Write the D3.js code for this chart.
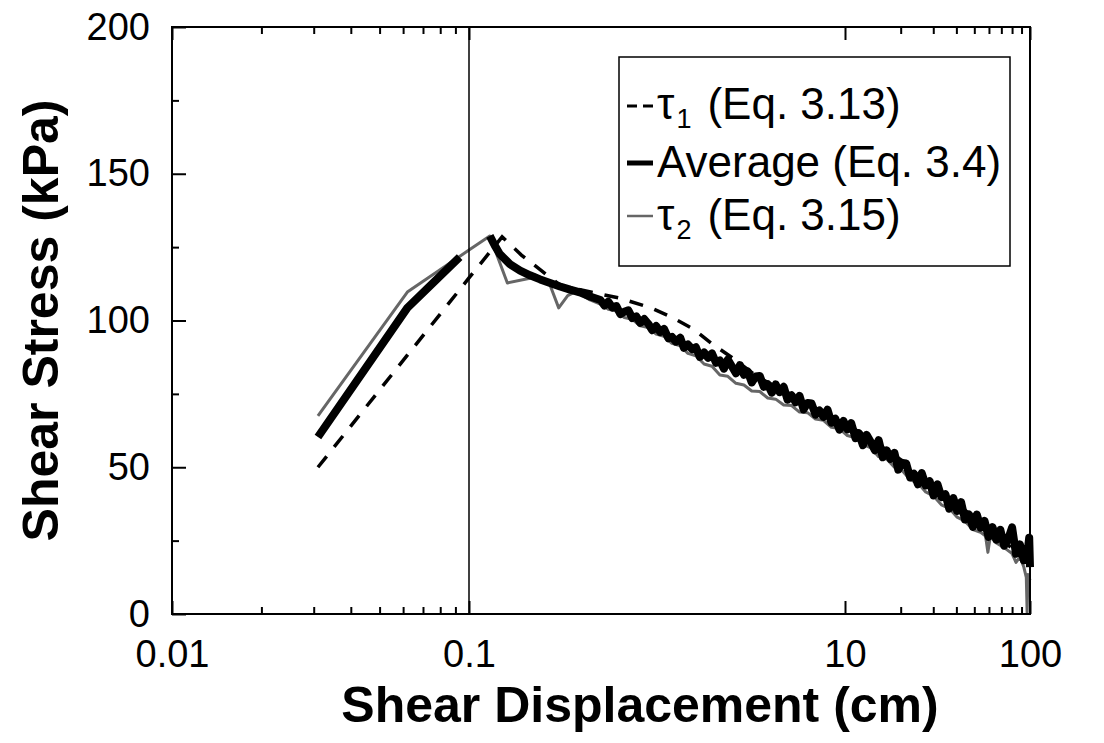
<!DOCTYPE html>
<html>
<head>
<meta charset="utf-8">
<script src="https://cdn.jsdelivr.net/npm/d3@7"></script>
<style>
  html, body { margin: 0; padding: 0; background: #fff; }
  svg { display: block; font-family: "Liberation Sans", Arial, sans-serif; }
</style>
</head>
<body>
<svg id="chart" width="1104" height="743"></svg>
<script>
// ---------- data ----------
const xMajorTicks = [0.01, 0.1, 10, 100];
const xTickLabels = ["0.01", "0.1", "10", "100"];
const xMinorTicks = [0.02, 0.03, 0.04, 0.05, 0.06, 0.07, 0.08, 0.09, 20, 30, 40, 50, 60, 70, 80, 90];
const yMajorTicks = [0, 50, 100, 150, 200];
const yMinorTicks = [25, 75, 125, 175];

// tau1 (Eq. 3.13) - dashed
const tau1X = [0.031, 0.1, 0.150, 0.190, 0.307, 0.45, 0.626, 0.93, 1.19, 1.56, 1.94, 2.49, 3.5, 5.0, 8.0, 12, 20, 35, 60, 100];
const tau1Y = [50, 114.5, 128.5, 122.3, 111.9, 109.6, 107.7, 104.3, 101.2, 97.1, 92.3, 87.5, 80.4, 75.3, 68.0, 62.0, 52.6, 40.3, 29.2, 17];

// Average (Eq. 3.4) - thick black (null = gap)
const avgX = [0.031, 0.062, 0.093, 0.11,
  0.129, 0.137, 0.146, 0.165, 0.187, 0.211, 0.239, 0.270, 0.305, 0.345, 0.389, 0.440,
  0.5, 0.525, 0.551, 0.579, 0.608, 0.638, 0.670, 0.704, 0.739, 0.776, 0.814, 0.855, 0.898, 0.943, 0.990,
  1.04, 1.09, 1.15, 1.20, 1.26, 1.33, 1.39, 1.46, 1.54, 1.61, 1.69, 1.78, 1.87, 1.96, 2.06,
  2.16, 2.27, 2.38, 2.50, 2.63, 2.76, 2.90, 3.04, 3.19, 3.35, 3.52, 3.70, 3.88, 4.08, 4.28,
  4.49, 4.72, 4.95, 5.20, 5.46, 5.73, 6.02, 6.32, 6.64, 6.97, 7.32, 7.68, 8.07, 8.47, 8.89,
  9.34, 9.81, 10.3, 10.8, 11.4, 11.9, 12.5, 13.1, 13.8, 14.5, 15.2, 16.0, 16.8, 17.6, 18.5,
  19.4, 20.4, 21.4, 22.5, 23.6, 24.8, 26.0, 27.3, 28.7, 30.1, 31.6, 33.2, 34.9, 36.6, 38.5,
  40.4, 42.4, 44.5, 46.8, 49.1, 51.6, 54.1, 56.8, 59.7, 62.7, 65.8, 69.1, 72.5, 76.2, 80.0,
  84.0, 88.2, 92.6, 97.2, 99.0, 100];
const avgY = [60.3, 104.3, 121.6, null,
  128.8, 125.6, 122.6, 119.2, 117.0, 115.4, 114.0, 112.8, 111.6, 110.5, 109.6, 108.2,
  107.0, 105.1, 106.4, 104.4, 104.9, 102.2, 103.0, 103.5, 100.8, 101.4, 99.2, 100.5, 98.9, 96.7, 98.1,
  96.1, 97.1, 93.9, 94.4, 92.8, 94.1, 90.7, 91.8, 90.2, 90.9, 87.6, 89.1, 87.3, 88.8, 85.6,
  86.4, 83.6, 86.7, 84.4, 82.0, 84.8, 81.5, 82.6, 78.9, 80.9, 81.1, 77.4, 78.3, 75.4, 78.2,
  75.6, 77.4, 73.0, 74.5, 72.1, 74.3, 69.7, 71.9, 71.7, 67.9, 69.3, 67.2, 69.6, 65.2, 66.5,
  62.8, 65.8, 62.9, 65.0, 59.9, 61.6, 57.5, 61.0, 58.5, 55.8, 59.2, 53.4, 55.7, 52.9, 54.9,
  49.2, 51.5, 51.3, 46.5, 47.8, 44.2, 48.0, 43.8, 45.2, 40.4, 44.2, 39.8, 40.8, 35.9, 39.5,
  35.1, 38.1, 32.2, 33.9, 29.7, 33.9, 29.4, 31.7, 26.3, 29.6, 25.3, 28.7, 23.3, 25.5, 29.5,
  20.5, 23.7, 18.3, 21.5, 26.0, 16.0];

// tau2 (Eq. 3.15) - thin grey
const tau2X = [0.031, 0.062, 0.10, 0.129, 0.160, 0.211, 0.225, 0.27, 0.300, 0.335, 0.36, 0.40,
  0.44, 0.50, 0.551, 0.608, 0.670, 0.739, 0.814, 0.898, 0.990, 1.09, 1.20, 1.33, 1.46, 1.61, 1.78, 1.96,
  2.16, 2.38, 2.63, 2.90, 3.19, 3.52, 3.88, 4.28, 4.72, 5.20, 5.73, 6.32, 6.97, 7.68, 8.47, 9.34,
  10.3, 11.4, 12.5, 13.8, 15.2, 16.8, 18.5, 20.4, 22.5, 24.8, 27.3, 30.1, 33.2, 36.6, 40.4, 44.5,
  49.1, 54.1, 57.5, 59.2, 61.0, 65.8, 72.5, 80.0, 84.0, 88.2, 92.6, 95.5, 96.5, 97.5, 100];
const tau2Y = [67.5, 109.7, 124.0, 128.8, 112.8, 114.4, 115.5, 112.0, 104.3, 108.5, 109.5, 108.6,
  107.0, 105.6, 103.8, 103.2, 101.0, 100.4, 98.2, 97.6, 95.4, 94.6, 92.2, 91.4, 88.8, 88.0, 85.2, 84.4,
  81.4, 81.0, 78.6, 78.0, 76.0, 75.8, 73.6, 73.2, 71.2, 71.0, 68.8, 68.6, 66.4, 66.0, 63.6, 63.2,
  60.8, 60.0, 57.8, 56.6, 53.6, 52.8, 50.0, 48.8, 45.8, 44.6, 41.6, 40.2, 37.2, 36.0, 33.0, 31.6,
  28.8, 27.8, 26.6, 21.0, 26.4, 24.2, 22.6, 20.6, 17.6, 19.4, 16.0, 12.5, 0.5, 13.5, 11.5];

const legendLabels = [
  {sym: "τ", sub: "1", rest: "(Eq. 3.13)"},
  {sym: "", sub: "", rest: "Average (Eq. 3.4)"},
  {sym: "τ", sub: "2", rest: "(Eq. 3.15)"}
];

// ---------- layout ----------
const svg = d3.select("#chart");
const L = 172, R = 1030, T = 27, B = 614;

const x = d3.scaleLog().domain([0.01, 0.1, 10, 100]).range([L, 469, 845, R]);
const y = d3.scaleLinear().domain([0, 200]).range([B, T]);

const zip = (xs, ys) => xs.map((v, i) => [v, ys[i]]);
const line = d3.line().defined(d => d[1] !== null).x(d => x(d[0])).y(d => y(d[1]));

const plot = svg.append("g");

// tau1 dashed
plot.append("path").datum(zip(tau1X, tau1Y)).attr("d", line)
  .attr("fill", "none").attr("stroke", "#000").attr("stroke-width", 3.5)
  .attr("stroke-dasharray", "14,12");
// tau2 grey
plot.append("path").datum(zip(tau2X, tau2Y)).attr("d", line)
  .attr("fill", "none").attr("stroke", "#666").attr("stroke-width", 3)
  .attr("stroke-linejoin", "round");
// average thick
plot.append("path").datum(zip(avgX, avgY)).attr("d", line)
  .attr("fill", "none").attr("stroke", "#000").attr("stroke-width", 8)
  .attr("stroke-linejoin", "round");

// vertical line at 0.1
svg.append("line").attr("x1", x(0.1)).attr("x2", x(0.1)).attr("y1", T).attr("y2", B)
  .attr("stroke", "#000").attr("stroke-width", 1.5);

// ---------- axes ----------
function styleAxis(g) {
  g.select(".domain").remove();
  g.selectAll(".tick line").attr("stroke", "#000").attr("stroke-width", 2);
  g.selectAll("text").attr("fill", "#000").style("font-size", "38px")
    .style("font-family", '"Liberation Sans", Arial, sans-serif');
}

const xFmt = d => xTickLabels[xMajorTicks.indexOf(d)];
svg.append("g").attr("transform", `translate(0,${B})`)
  .call(d3.axisBottom(x).tickValues(xMajorTicks).tickFormat(xFmt).tickSize(-13).tickPadding(26))
  .call(styleAxis);
svg.append("g").attr("transform", `translate(0,${B})`)
  .call(d3.axisBottom(x).tickValues(xMinorTicks).tickFormat("").tickSize(-7))
  .call(styleAxis);
svg.append("g").attr("transform", `translate(0,${T})`)
  .call(d3.axisTop(x).tickValues(xMajorTicks).tickFormat("").tickSize(-13))
  .call(styleAxis);
svg.append("g").attr("transform", `translate(0,${T})`)
  .call(d3.axisTop(x).tickValues(xMinorTicks).tickFormat("").tickSize(-7))
  .call(styleAxis);

svg.append("g").attr("transform", `translate(${L},0)`)
  .call(d3.axisLeft(y).tickValues(yMajorTicks).tickFormat(d3.format("d")).tickSize(-14).tickPadding(22))
  .call(styleAxis);
svg.append("g").attr("transform", `translate(${L},0)`)
  .call(d3.axisLeft(y).tickValues(yMinorTicks).tickFormat("").tickSize(-7))
  .call(styleAxis);

// frame
svg.append("rect").attr("x", L).attr("y", T).attr("width", R - L).attr("height", B - T)
  .attr("fill", "none").attr("stroke", "#000").attr("stroke-width", 2);

// axis titles
svg.append("text").attr("x", 640).attr("y", 722).attr("text-anchor", "middle")
  .style("font-size", "50px").style("font-weight", "bold").text("Shear Displacement (cm)");
svg.append("text").attr("transform", `translate(58,${(T + B) / 2}) rotate(-90)`)
  .attr("text-anchor", "middle")
  .style("font-size", "50px").style("font-weight", "bold").text("Shear Stress (kPa)");

// ---------- legend ----------
const lg = svg.append("g");
lg.append("rect").attr("x", 619).attr("y", 57).attr("width", 391).attr("height", 209)
  .attr("fill", "#fff").attr("stroke", "#000").attr("stroke-width", 1.5);
const rowsY = [106, 163, 216];
const baseY = [119, 177, 230];
// symbols
lg.append("line").attr("x1", 627).attr("x2", 653).attr("y1", rowsY[0]).attr("y2", rowsY[0])
  .attr("stroke", "#000").attr("stroke-width", 3).attr("stroke-dasharray", "10,6");
lg.append("line").attr("x1", 627).attr("x2", 653).attr("y1", rowsY[1]).attr("y2", rowsY[1])
  .attr("stroke", "#000").attr("stroke-width", 5);
lg.append("line").attr("x1", 627).attr("x2", 653).attr("y1", rowsY[2]).attr("y2", rowsY[2])
  .attr("stroke", "#666").attr("stroke-width", 2.5);
legendLabels.forEach((d, i) => {
  const t = lg.append("text").attr("x", 657).attr("y", baseY[i]).style("font-size", "44px");
  if (d.sym) {
    t.append("tspan").text(d.sym);
    t.append("tspan").attr("dx", 2).attr("dy", 9).style("font-size", "27px").text(d.sub);
    t.append("tspan").attr("dx", 16).attr("dy", -9).text(d.rest);
  } else {
    t.append("tspan").text(d.rest);
  }
});
</script>
</body>
</html>
